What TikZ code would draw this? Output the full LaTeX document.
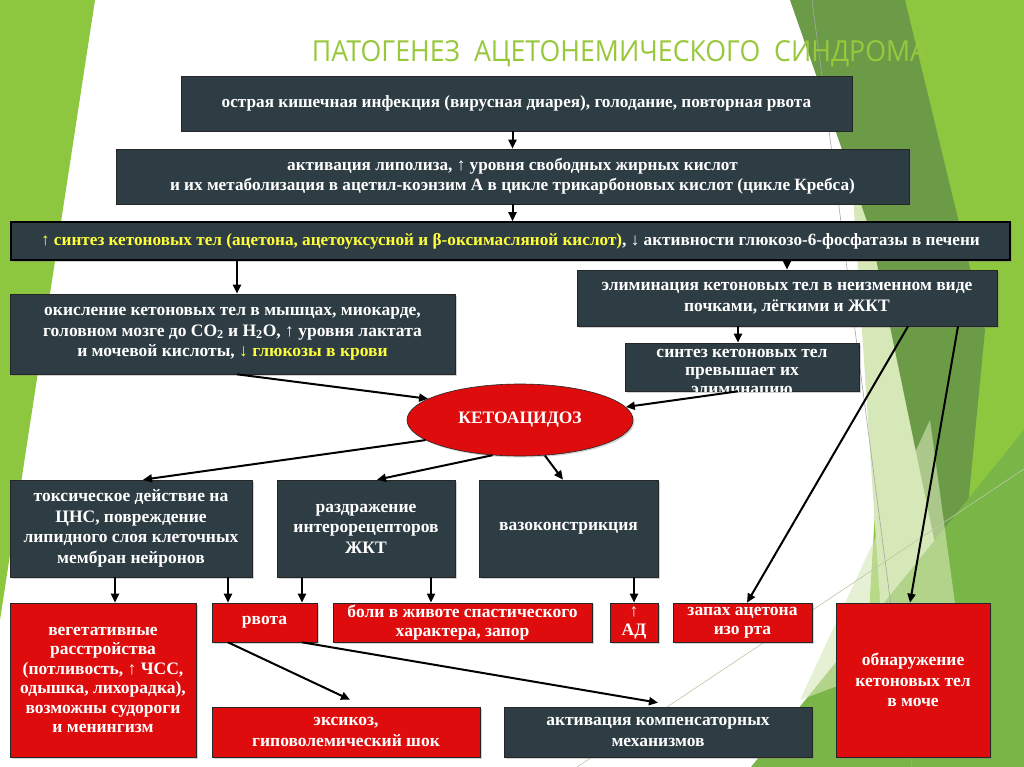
\documentclass[tikz,border=0pt]{standalone}
\usepackage{graphicx}
\usepackage{fontspec}
\setmainfont{Liberation Serif}
\newfontfamily\titlefont{Open Sans}
\usetikzlibrary{arrows.meta,shapes.geometric,shadows}
\definecolor{dk}{RGB}{46,60,68}
\definecolor{rd}{RGB}{222,12,12}
\definecolor{ylw}{RGB}{255,255,60}
\definecolor{ttl}{RGB}{152,200,60}
\definecolor{lg}{RGB}{141,198,63}
\definecolor{og}{RGB}{107,155,71}
\definecolor{pg}{RGB}{214,231,184}
\definecolor{mg}{RGB}{122,181,71}
\tikzset{
  box/.style={draw=black!85, line width=0.6pt, inner sep=2pt, text=white, align=center,
    font=\bfseries\fontsize{17.5}{20.5}\selectfont,
    drop shadow={opacity=0.35, shadow xshift=1.5pt, shadow yshift=-1.5pt}},
  dbox/.style={box, fill=dk},
  rbox/.style={box, fill=rd},
  topfont/.style={font=\bfseries\fontsize{17.2}{20}\selectfont},
  smallfont/.style={font=\bfseries\fontsize{17.5}{19}\selectfont},
  synthline/.style={text=white, inner sep=0, anchor=base, font=\bfseries\fontsize{17.5}{19}\selectfont},
  arr/.style={-{Triangle[length=9pt,width=8pt]}, line width=2pt, black},
}
\begin{document}
\begin{tikzpicture}[x=1pt,y=-1pt]
\useasboundingbox (0,0) rectangle (1024,767);
\fill[white] (0,0) rectangle (1024,767);
% background shapes
\fill[lg] (0,0) -- (95,0) -- (0,620) -- cycle;
\fill[lg] (905,0) -- (1024,0) -- (1024,767) -- (860,767) -- cycle;
\fill[pg] (850,150) -- (960,560) -- (905,767) -- (870,767) -- (880,600) -- cycle;
\fill[og] (790,0) -- (905,0) -- (985,330) -- (955,640) -- (870,230) -- cycle;
\fill[mg] (751,767) -- (1024,767) -- (1024,430) -- cycle;
\fill[pg, opacity=0.6] (800,700) -- (930,420) -- (960,640) -- cycle;
\draw[black!35, line width=0.6pt] (812,0) -- (912,767);
\draw[pg!70!gray, line width=0.6pt] (577,767) -- (1024,469);

% title
\node[text=ttl, inner sep=0, anchor=base] (title) at (619.5,62)
  {\resizebox{615pt}{21pt}{\titlefont ПАТОГЕНЕЗ\ \ АЦЕТОНЕМИЧЕСКОГО\ \ СИНДРОМА}};

% boxes
\node[dbox, topfont, minimum width=671pt, minimum height=55pt] (b1) at (516.5,103.5)
  {острая кишечная инфекция (вирусная диарея), голодание, повторная рвота};
\node[dbox, topfont, minimum width=793pt, minimum height=55pt] (b2) at (512.5,176.5)
  {активация липолиза, ↑ уровня свободных жирных кислот\\и их метаболизация в ацетил-коэнзим А в цикле трикарбоновых кислот (цикле Кребса)};
\node[dbox, topfont, draw=black, line width=1.5pt, minimum width=999pt, minimum height=38pt] (b3) at (510.5,241)
  {\textcolor{ylw}{↑ синтез кетоновых тел (ацетона, ацетоуксусной и β-оксимасляной кислот)}, ↓ активности глюкозо-6-фосфатазы в печени};
\node[dbox, minimum width=445pt, minimum height=80pt] (b4) at (232.5,334)
  {окисление кетоновых тел в мышцах, миокарде,\\головном мозге до CO\textsubscript{2} и H\textsubscript{2}O, ↑ уровня лактата\\и мочевой кислоты, \textcolor{ylw}{↓ глюкозы в крови}};
\node[dbox, minimum width=420pt, minimum height=56pt] (elim) at (787,298)
  {элиминация кетоновых тел в неизменном виде\\почками, лёгкими и ЖКТ};
\node[dbox, minimum width=234pt, minimum height=48pt] (synth) at (742,367) {};
\begin{scope}
  \clip (synth.south west) rectangle (synth.north east);
  \node[synthline] (s1) at (742,357) {синтез кетоновых тел};
  \node[synthline] (s2) at (742,375) {превышает их};
  \node[synthline] (s3) at (742,394) {элиминацию};
\end{scope}
\node[ellipse, draw=black!85, line width=0.6pt, fill=rd, text=white, minimum width=226pt, minimum height=72pt,
  font=\bfseries\fontsize{17.5}{20}\selectfont,
  drop shadow={opacity=0.35, shadow xshift=1.5pt, shadow yshift=-1.5pt}] (ell) at (520,420) {КЕТОАЦИДОЗ};

\node[dbox, minimum width=242pt, minimum height=97pt] (tox) at (131,528.5)
  {токсическое действие на\\ЦНС, повреждение\\липидного слоя клеточных\\мембран нейронов};
\node[dbox, minimum width=178pt, minimum height=97pt] (raz) at (366,528.5)
  {раздражение\\интерорецепторов\\ЖКТ};
\node[dbox, minimum width=179pt, minimum height=97pt] (vaso) at (568.5,528.5)
  {вазоконстрикция};

\node[rbox, minimum width=186pt, minimum height=154pt, font=\bfseries\fontsize{17.5}{19.5}\selectfont] (veg) at (103,680)
  {вегетативные\\расстройства\\(потливость, ↑ ЧСС,\\одышка, лихорадка),\\возможны судороги\\и менингизм};
\node[rbox, minimum width=105pt, minimum height=39pt] (rv) at (264.5,622.5) {рвота};
\node[rbox, smallfont, minimum width=259pt, minimum height=39pt] (boli) at (462.5,622.5)
  {боли в животе спастического\\характера, запор};
\node[rbox, smallfont, minimum width=48pt, minimum height=39pt] (ad) at (634,622.5) {↑\\АД};
\node[rbox, smallfont, minimum width=139pt, minimum height=39pt] (zap) at (742.5,622.5)
  {запах ацетона\\изо рта};
\node[rbox, minimum width=154pt, minimum height=154pt] (moche) at (913,680)
  {обнаружение\\кетоновых тел\\в моче};
\node[rbox, minimum width=268pt, minimum height=50pt] (eks) at (346,732)
  {эксикоз,\\гиповолемический шок};
\node[dbox, minimum width=308pt, minimum height=50pt] (akt) at (658,732)
  {активация компенсаторных\\механизмов};

% arrows
\draw[arr] (b2.north |- b1.south) -- (b2.north);
\draw[arr] (b2.south) -- (b2.south |- b3.north);
\draw[arr] ([xshift=4.5pt]b4.north |- b3.south) -- ([xshift=4.5pt]b4.north);
\draw[arr] (elim.north |- b3.south) -- (elim.north);
\draw[arr] ([xshift=-4pt]synth.north |- elim.south) -- ([xshift=-4pt]synth.north);
\draw[arr] ([xshift=4.5pt]b4.south) -- (ell.167);
\draw[arr] ([xshift=-4pt]synth.south) -- (ell.7);
\draw[arr] (ell.192) -- ([xshift=12pt]tox.north);
\draw[arr] (ell.232) -- ([xshift=11pt]raz.north);
\draw[arr] (ell.305) -- ([xshift=-5.5pt]vaso.north);
\draw[arr] ([xshift=12pt]veg.north |- tox.south) -- ([xshift=12pt]veg.north);
\draw[arr] ([xshift=-36.5pt]rv.north |- tox.south) -- ([xshift=-36.5pt]rv.north);
\draw[arr] ([xshift=37.5pt]rv.north |- raz.south) -- ([xshift=37.5pt]rv.north);
\draw[arr] ([xshift=-31.5pt]boli.north |- raz.south) -- ([xshift=-31.5pt]boli.north);
\draw[arr] (ad.north |- vaso.south) -- (ad.north);
\draw[arr] ([xshift=121pt]elim.south) -- ([xshift=4.5pt]zap.north);
\draw[arr] ([xshift=171pt]elim.south) -- ([xshift=-3pt]moche.north);
\draw[arr] ([xshift=-36.5pt]rv.south) -- ([xshift=4pt,yshift=7pt]eks.north);
\draw[arr] ([xshift=37.5pt]rv.south) -- ([yshift=4pt]akt.north);
\end{tikzpicture}
\end{document}
